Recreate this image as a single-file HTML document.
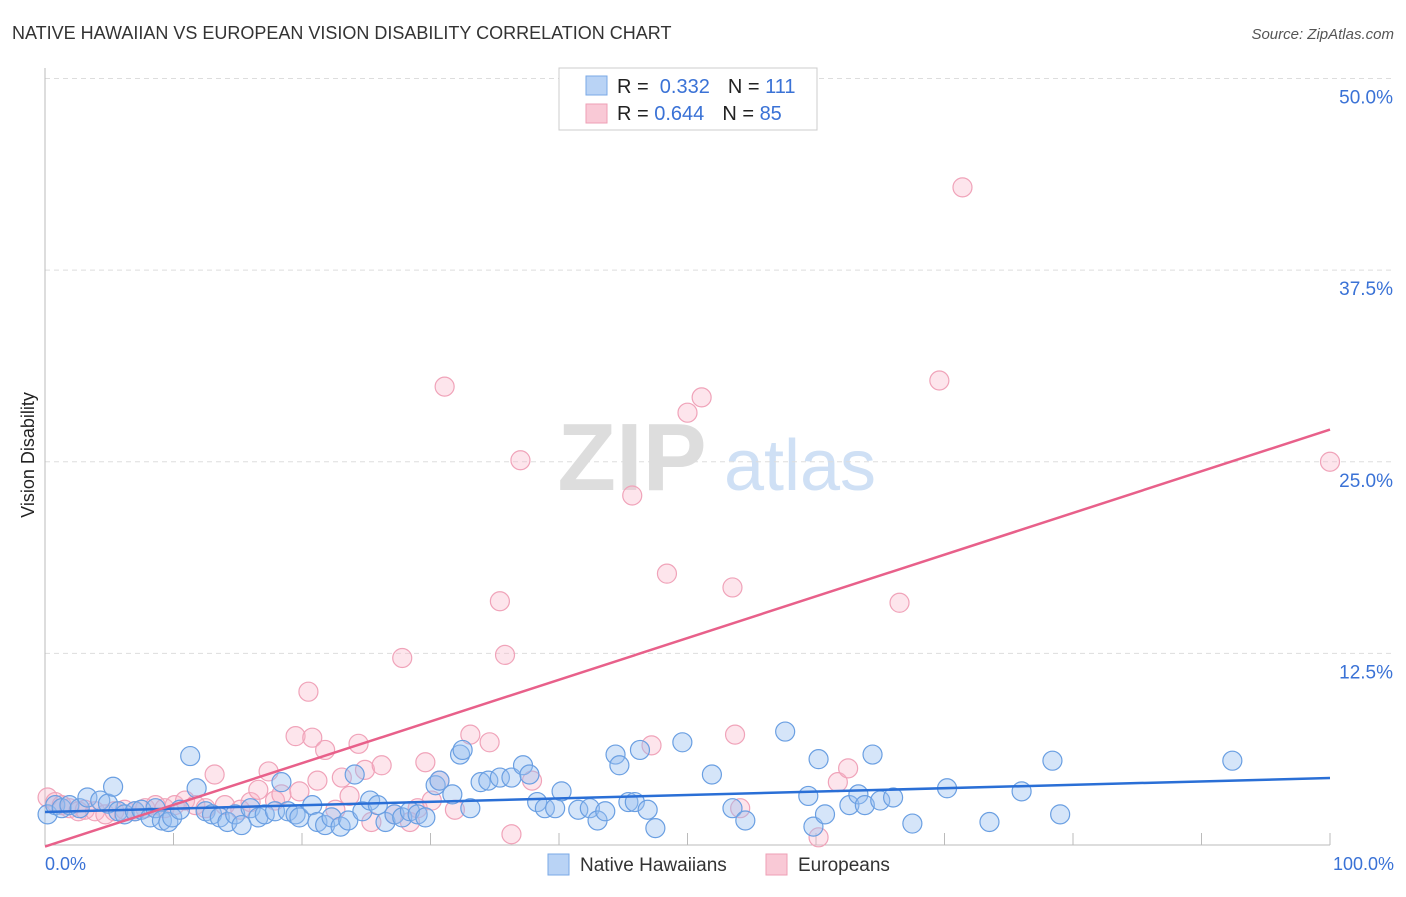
<!DOCTYPE html>
<html><head><meta charset="utf-8"><style>
body{margin:0;background:#fff;font-family:"Liberation Sans",sans-serif;}
svg text{font-family:"Liberation Sans",sans-serif;}
</style></head><body>
<svg id="chart" width="1406" height="892" xmlns="http://www.w3.org/2000/svg">
<text x="12" y="39" font-size="18" fill="#333">NATIVE HAWAIIAN VS EUROPEAN VISION DISABILITY CORRELATION CHART</text>
<text x="1394" y="39" font-size="15" fill="#555" font-style="italic" text-anchor="end">Source: ZipAtlas.com</text>
<text x="34" y="455" font-size="18" fill="#222" text-anchor="middle" transform="rotate(-90 34 455)">Vision Disability</text>
<g><text x="632" y="490" font-size="96" fill="#ddd" font-family="Liberation Serif" text-anchor="middle" font-weight="bold">ZIP</text><text x="800" y="490" font-size="72" fill="#cfe0f5" text-anchor="middle">atlas</text></g>
<g id="grid"></g><g id="pts"></g><g id="lines"></g>
<g>
<rect x="559" y="68" width="258" height="62" fill="#fff" stroke="#ccc"/>
<rect x="586" y="76" width="21" height="19" fill="#b9d3f5" stroke="#7aa8e6"/>
<rect x="586" y="104" width="21" height="19" fill="#f9c9d6" stroke="#ee9fb5"/>
<text x="617" y="93" font-size="20" fill="#222">R = <tspan fill="#3a72d6">&#160;0.332</tspan><tspan dx="18">N = </tspan><tspan fill="#3a72d6">111</tspan></text>
<text x="617" y="120" font-size="20" fill="#222">R = <tspan fill="#3a72d6">0.644</tspan><tspan dx="18">N = </tspan><tspan fill="#3a72d6">85</tspan></text>
</g>
<g>
<rect x="548" y="854" width="21" height="21" fill="#b9d3f5" stroke="#7aa8e6"/>
<text x="580" y="871" font-size="19" fill="#333">Native Hawaiians</text>
<rect x="766" y="854" width="21" height="21" fill="#f9c9d6" stroke="#ee9fb5"/>
<text x="798" y="871" font-size="19" fill="#333">Europeans</text>
</g>
<text x="45" y="870" font-size="18" fill="#3a72d6">0.0%</text>
<text x="1394" y="870" font-size="18" fill="#3a72d6" text-anchor="end">100.0%</text>
</svg>
<script>
const blueX=[0.2,0.8,1.3,1.9,2.7,3.3,4.3,4.9,5.3,5.7,6.2,7.0,7.5,8.2,8.6,9.1,9.6,9.9,10.5,11.3,11.8,12.5,13.0,13.6,14.2,14.8,15.3,16.0,16.6,17.1,17.9,18.4,18.9,19.5,19.8,20.8,21.2,21.8,22.3,23.0,23.6,24.1,24.7,25.3,25.9,26.5,27.2,27.8,28.4,29.0,29.6,30.4,30.7,31.7,32.3,32.5,33.1,33.9,34.5,35.4,36.3,37.2,37.7,38.3,38.9,39.7,40.2,41.5,42.4,43.0,43.6,44.4,44.7,45.4,45.9,46.3,46.9,47.5,49.6,51.9,53.5,54.5,57.6,59.4,59.8,60.2,60.7,62.6,63.3,63.8,64.4,65.0,66.0,67.5,70.2,73.5,76.0,78.4,79.0,92.4];
const blueY=[2.0,2.6,2.4,2.6,2.4,3.1,2.9,2.7,3.8,2.2,2.0,2.2,2.3,1.8,2.4,1.6,1.5,1.8,2.3,5.8,3.7,2.2,2.0,1.8,1.5,2.0,1.3,2.4,1.8,2.0,2.2,4.1,2.2,2.0,1.8,2.6,1.5,1.3,1.8,1.2,1.6,4.6,2.2,2.9,2.6,1.5,2.0,1.8,2.2,2.0,1.8,3.9,4.2,3.3,5.9,6.2,2.4,4.1,4.2,4.4,4.4,5.2,4.6,2.8,2.4,2.4,3.5,2.3,2.4,1.6,2.2,5.9,5.2,2.8,2.8,6.2,2.3,1.1,6.7,4.6,2.4,1.6,7.4,3.2,1.2,5.6,2.0,2.6,3.3,2.6,5.9,2.9,3.1,1.4,3.7,1.5,3.5,5.5,2.0,5.5];
const pinkX=[0.2,0.8,1.3,1.9,2.6,3.1,3.9,4.7,5.4,6.2,7.0,7.8,8.6,9.3,10.1,10.9,11.7,12.5,13.2,14.0,15.2,16.0,16.6,17.4,17.9,18.4,19.5,19.8,20.5,20.8,21.2,21.8,22.6,23.1,23.7,24.4,24.9,25.4,26.2,27.2,27.8,28.4,29.0,29.6,30.1,30.7,31.1,31.9,33.1,34.6,35.4,35.8,36.3,37.0,37.9,45.7,47.2,48.4,50.0,51.1,53.5,53.7,54.1,61.7,62.5,66.5,69.6,71.4,100,60.2];
const pinkY=[3.1,2.8,2.6,2.4,2.2,2.3,2.2,2.0,2.2,2.3,2.2,2.4,2.6,2.4,2.6,2.9,2.6,2.4,4.6,2.6,2.3,2.8,3.6,4.8,2.9,3.3,7.1,3.5,10.0,7.0,4.2,6.2,2.3,4.4,3.2,6.6,4.9,1.5,5.2,2.0,12.2,1.5,2.4,5.4,2.9,4.2,29.9,2.3,7.2,6.7,15.9,12.4,0.7,25.1,4.2,22.8,6.5,17.7,28.2,29.2,16.8,7.2,2.4,4.1,5.0,15.8,30.3,42.9,25.0,0.5];
const yTicks=[12.5,25.0,37.5,50.0];
const xTicks=[10,20,30,40,50,60,70,80,90,100];
const blueLine=[2.15,4.37];
const pinkLine=[-0.1,27.1];
const NS='http://www.w3.org/2000/svg';
const sx=v=>45+v*12.85, sy=v=>845-v*15.33;
function mk(t,a,p){const e=document.createElementNS(NS,t);for(const k in a)e.setAttribute(k,a[k]);p.appendChild(e);return e;}
const grid=document.getElementById('grid');
yTicks.forEach(t=>{
 const l=mk('line',{x1:45,x2:1394,y1:sy(t),y2:sy(t),stroke:'#ddd','stroke-dasharray':'5,4'},grid);
 
 
 const tx=mk('text',{x:1393,y:sy(t)+25,'font-size':19,fill:'#3a72d6','text-anchor':'end'},grid);tx.textContent=t.toFixed(1)+'%';
 
 
});
mk('line',{x1:45,x2:45,y1:68,y2:845,stroke:'#bbb'},grid);
mk('line',{x1:45,x2:1330,y1:845,y2:845,stroke:'#bbb'},grid);
xTicks.forEach(t=>{const l=mk('line',{x1:sx(t),x2:sx(t),y1:833,y2:845,stroke:'#bbb'},grid);
 
 });
const pts=document.getElementById('pts');
pinkX.forEach((x,i)=>{const c=mk('circle',{cx:sx(x),cy:sy(pinkY[i]),r:9.5,fill:'rgba(248,180,200,0.35)',stroke:'#f0a3b9','stroke-width':1.2},pts);
 
 });
blueX.forEach((x,i)=>{const c=mk('circle',{cx:sx(x),cy:sy(blueY[i]),r:9.5,fill:'rgba(150,190,240,0.4)',stroke:'#6a9fe2','stroke-width':1.2},pts);
 
 });
const lines=document.getElementById('lines');
const bl=mk('line',{x1:sx(0),y1:sy(blueLine[0]),x2:sx(100),y2:sy(blueLine[1]),stroke:'#2a6fd6','stroke-width':2.5},lines);


const pl=mk('line',{x1:sx(0),y1:sy(pinkLine[0]),x2:sx(100),y2:sy(pinkLine[1]),stroke:'#e8608a','stroke-width':2.5},lines);


</script>
</body></html>
